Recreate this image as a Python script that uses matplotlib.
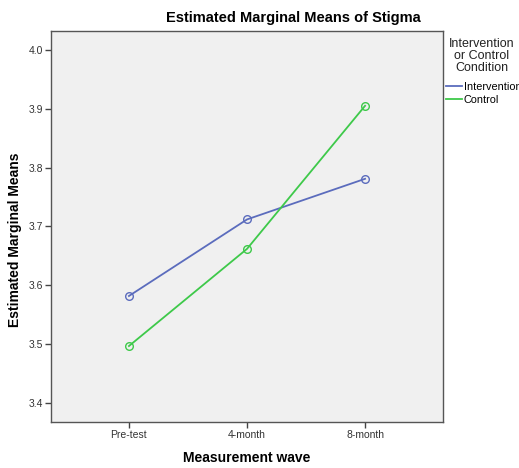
import numpy as np
import matplotlib.pyplot as plt

plt.rcParams['font.family'] = ['Liberation Sans', 'DejaVu Sans']

waves = ['Pre-test', '4-month', '8-month']
intervention = [3.582, 3.712, 3.781]
control = [3.497, 3.662, 3.905]
y_ticks = [3.4, 3.5, 3.6, 3.7, 3.8, 3.9, 4.0]

W, H = 519, 468
fig = plt.figure(figsize=(W / 100, H / 100), dpi=100)
# plot box in pixels: left 51, right 443, top 31, bottom 422
ax = fig.add_axes([51 / W, 1 - 422 / H, (443 - 51) / W, (422 - 31) / H])
ax.set_facecolor('#f0f0f0')

x = np.arange(len(waves))
blue = '#5b6cbd'
green = '#3ec94a'
ax.plot(x, intervention, color=blue, lw=1.3, marker='o', ms=5.5,
        mfc='none', mec=blue, mew=1.0, label='Intervention')
ax.plot(x, control, color=green, lw=1.3, marker='o', ms=5.5,
        mfc='none', mec=green, mew=1.0, label='Control')

ax.set_xlim(-0.66, 2.66)
ax.set_ylim(3.368, 4.032)
ax.set_xticks(x)
ax.set_xticklabels(waves, fontsize=7.5, color='#333333')
ax.set_yticks(y_ticks)
ax.set_yticklabels(['%.1f' % v for v in y_ticks], fontsize=7.5, color='#333333')
ax.tick_params(length=4, width=1, color='#444444', pad=2)
for s in ax.spines.values():
    s.set_color('#555555')
    s.set_linewidth(1.0)

fig.text(293 / W, 1 - 18 / H, 'Estimated Marginal Means of Stigma',
         ha='center', va='center', fontsize=10.5, fontweight='bold')
fig.text(247 / W, 1 - 458 / H, 'Measurement wave',
         ha='center', va='center', fontsize=10, fontweight='bold')
fig.text(15 / W, 1 - 240 / H, 'Estimated Marginal Means', rotation=90,
         ha='center', va='center', fontsize=10, fontweight='bold')

fig.text(482 / W, 1 - 56 / H, 'Intervention\nor Control\nCondition',
         ha='center', va='center', fontsize=9, linespacing=0.98, color='#222222')
leg = ax.legend(loc='upper left', bbox_to_anchor=(446 / W, 1 - 82 / H),
                bbox_transform=fig.transFigure, frameon=False,
                fontsize=7.8, handlelength=1.5, handletextpad=0.15,
                labelspacing=0.3, borderaxespad=0, borderpad=0)
for h in leg.legend_handles:
    h.set_marker('')

fig.savefig('out.png', dpi=100)
